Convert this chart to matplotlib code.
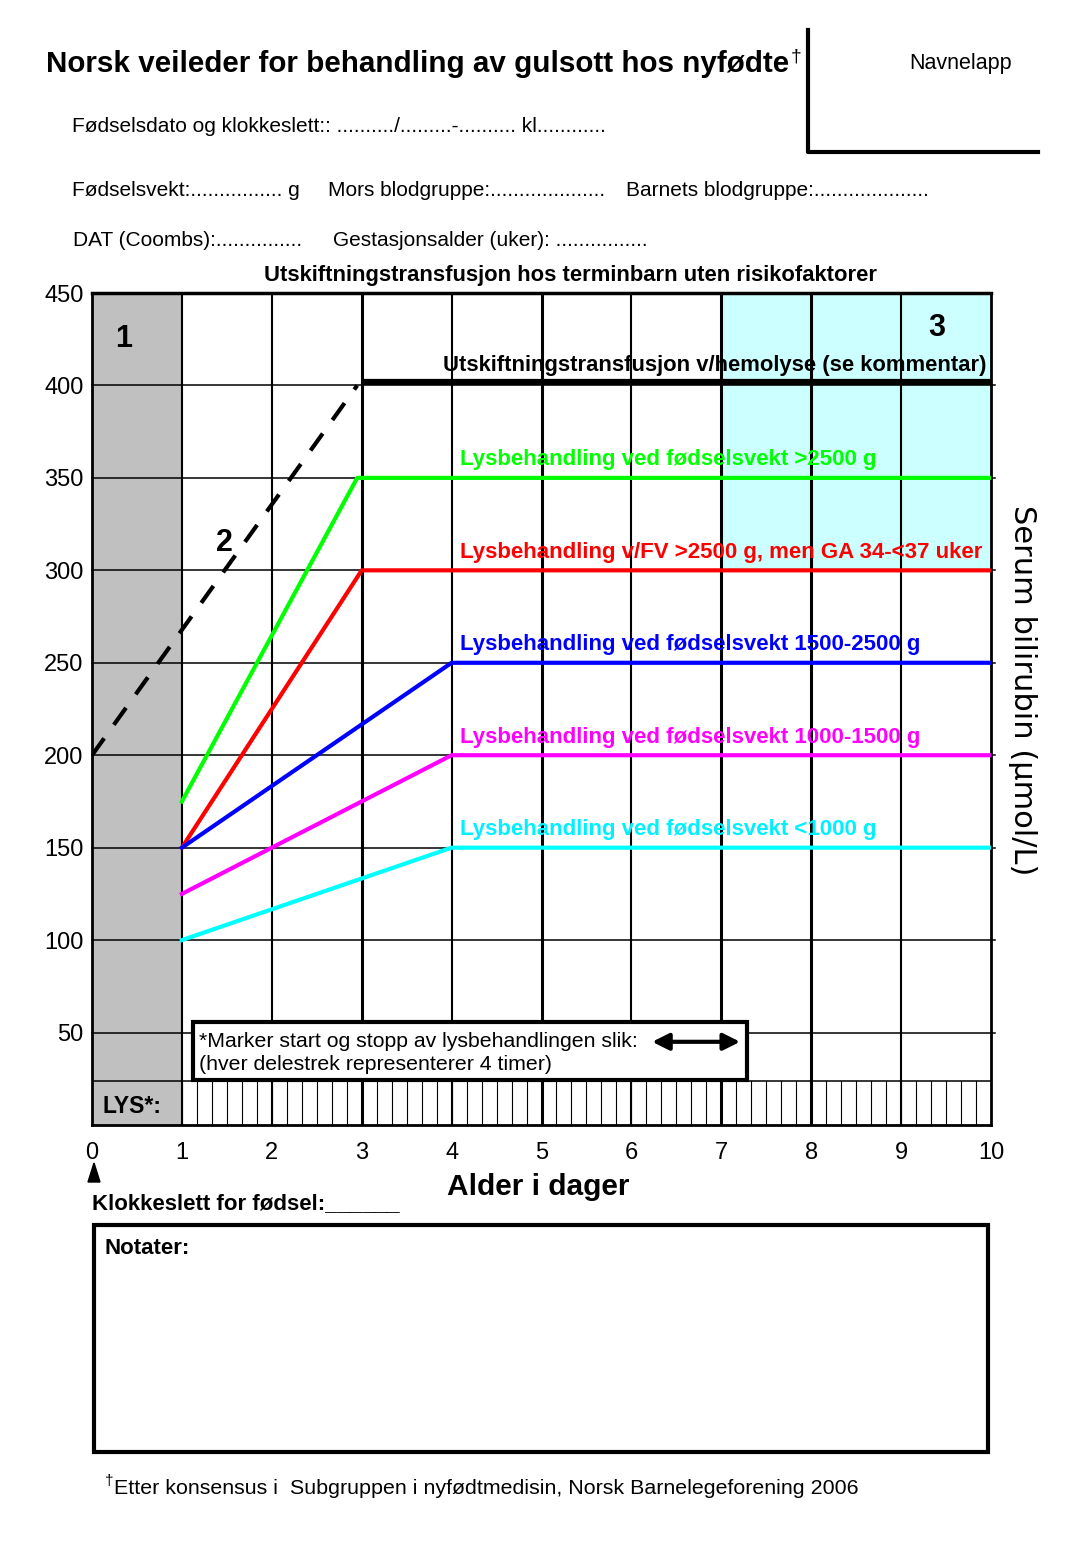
import numpy as np
from matplotlib import pyplot as plt
from matplotlib.patches import Rectangle

W, H = 1068, 1541

plt.rcParams['font.family'] = ['Liberation Sans', 'DejaVu Sans']

# grid values
y_ticks = [50, 100, 150, 200, 250, 300, 350, 400, 450]
x_ticks = list(range(0, 11))

# treatment limits (day, bilirubin)
exch_days = [3, 10]
exch_vals = [402, 402]
hemo_days = [0, 2.95]
hemo_vals = [200, 400]
green_days = [1, 2.95, 10]
green_vals = [175, 350, 350]
red_days = [1, 3, 10]
red_vals = [150, 300, 300]
blue_days = [1, 4, 10]
blue_vals = [150, 250, 250]
magenta_days = [1, 4, 10]
magenta_vals = [125, 200, 200]
cyan_days = [1, 4, 10]
cyan_vals = [100, 150, 150]

labels = [
    ("Lysbehandling ved fødselsvekt >2500 g", 350, '#00ff00'),
    ("Lysbehandling v/FV >2500 g, men GA 34-<37 uker", 300, '#ff0000'),
    ("Lysbehandling ved fødselsvekt 1500-2500 g", 250, '#0000ff'),
    ("Lysbehandling ved fødselsvekt 1000-1500 g", 200, '#ff00ff'),
    ("Lysbehandling ved fødselsvekt <1000 g", 150, '#00f0ff'),
]


def px(x, y):
    return x / W, 1 - y / H


fig = plt.figure(figsize=(W / 100, H / 100), dpi=100)
ax = fig.add_axes([92 / W, 1 - 1125 / H, (991 - 92) / W, (1125 - 293) / H])
ax.set_xlim(0, 10)
ax.set_ylim(0, 450)

# shaded zones
ax.add_patch(Rectangle((0, 0), 1, 450, facecolor='#c0c0c0', edgecolor='none', zorder=0))
ax.add_patch(Rectangle((7, 300), 3, 150, facecolor='#ccffff', edgecolor='none', zorder=0))

# grid
for yv in y_ticks[:-1]:
    ax.plot([0, 10.05], [yv, yv], color='black', lw=1.1, zorder=1, clip_on=False)
for d in x_ticks[1:-1]:
    lw = 2.2 if d in (3, 5, 7, 8) else 1.5
    ax.plot([d, d], [0, 450], color='black', lw=lw, zorder=1)

# LYS strip, one tick per 4 hours
ax.plot([0, 10], [24, 24], color='black', lw=1.1, zorder=1)
for t in np.arange(1, 10, 1 / 6):
    ax.plot([t, t], [0, 24], color='black', lw=0.8, zorder=1)
ax.text(0.12, 10, "LYS*:", fontsize=16.5, fontweight='bold', va='center', ha='left')

# curves
ax.plot(hemo_days, hemo_vals, color='black', lw=3, ls=(0, (5, 4)), zorder=3)
ax.plot(exch_days, exch_vals, color='black', lw=4.5, zorder=3, solid_capstyle='butt')
ax.plot(green_days, green_vals, color='#00ff00', lw=3, zorder=3)
ax.plot(red_days, red_vals, color='#ff0000', lw=3, zorder=3)
ax.plot(blue_days, blue_vals, color='#0000ff', lw=3, zorder=3)
ax.plot(magenta_days, magenta_vals, color='#ff00ff', lw=3, zorder=3)
ax.plot(cyan_days, cyan_vals, color='#00ffff', lw=3, zorder=3)

ax.text(9.95, 405, "Utskiftningstransfusjon v/hemolyse (se kommentar)", fontsize=15.8,
        fontweight='bold', ha='right', va='bottom', zorder=4)
for txt, yv, col in labels:
    ax.text(4.09, yv + 4, txt, fontsize=16, fontweight='bold', color=col,
            ha='left', va='bottom', zorder=4)

ax.text(0.35, 425, "1", fontsize=22, fontweight='bold', ha='center', va='center')
ax.text(1.47, 315, "2", fontsize=22, fontweight='bold', ha='center', va='center')
ax.text(9.4, 431, "3", fontsize=22, fontweight='bold', ha='center', va='center')

# marking note box
ax.add_patch(Rectangle((1.12, 24.5), 6.17, 31, facecolor='white', edgecolor='black',
                       lw=3, zorder=5))
ax.text(1.19, 50.5, "*Marker start og stopp av lysbehandlingen slik:", fontsize=15.3,
        ha='left', va='top', zorder=6)
ax.text(1.19, 38, "(hver delestrek representerer 4 timer)", fontsize=15.3,
        ha='left', va='top', zorder=6)
ax.annotate('', xy=(7.24, 45), xytext=(6.2, 45),
            arrowprops=dict(arrowstyle='<|-|>', color='black', lw=3, mutation_scale=25),
            zorder=6)

# axes frame
for s in ('left', 'bottom', 'right'):
    ax.spines[s].set_linewidth(2)
ax.spines['top'].set_linestyle((0, (2, 1)))
ax.spines['top'].set_linewidth(2.5)

ax.set_yticks(y_ticks)
ax.set_yticklabels([str(v) for v in y_ticks], fontsize=17)
ax.set_xticks(x_ticks)
ax.set_xticklabels([str(v) for v in x_ticks], fontsize=17)
ax.tick_params(axis='x', length=0, pad=12)
ax.tick_params(axis='y', length=0, pad=6)

# header
title = fig.text(*px(46, 64), "Norsk veileder for behandling av gulsott hos nyfødte", fontsize=21.3,
                 fontweight='bold', va='center', ha='left')
ax.annotate("†", xy=(1, 1), xycoords=title, xytext=(1, 1), textcoords='offset points',
            fontsize=14, ha='left', va='top', annotation_clip=False)
fig.text(*px(72, 126), "Fødselsdato og klokkeslett:: ........../.........-.......... kl............",
         fontsize=15, va='center')
fig.text(*px(72, 190), "Fødselsvekt:................ g", fontsize=15, va='center')
fig.text(*px(328, 190), "Mors blodgruppe:....................", fontsize=15, va='center')
fig.text(*px(626, 190), "Barnets blodgruppe:....................", fontsize=15, va='center')
fig.text(*px(73, 240), "DAT (Coombs):...............", fontsize=15, va='center')
fig.text(*px(333, 240), "Gestasjonsalder (uker): ................", fontsize=15, va='center')
fig.text(*px(909, 64), "Navnelapp", fontsize=15.5, va='center')
fig.add_artist(plt.Line2D([808 / W, 808 / W, 1038 / W], [1 - 30 / H, 1 - 152 / H, 1 - 152 / H],
                          color='black', lw=3, transform=fig.transFigure))
fig.text(*px(571, 275), "Utskiftningstransfusjon hos terminbarn uten risikofaktorer",
         fontsize=15.8, fontweight='bold', ha='center', va='center')

fig.text(*px(1022, 690), "Serum bilirubin (µmol/L)", fontsize=22, rotation=-90,
         ha='center', va='center', family=['DejaVu Sans'])

# below chart
fig.text(*px(538, 1187), "Alder i dager", fontsize=21.5, fontweight='bold', ha='center', va='center')
fig.text(*px(92, 1204), "Klokkeslett for fødsel:______", fontsize=16, fontweight='bold',
         ha='left', va='center')
fig.add_artist(plt.Polygon([px(88, 1182), px(100, 1182), px(94, 1163)], closed=True,
                           color='black', transform=fig.transFigure))

fig.add_artist(Rectangle(px(94, 1452), (988 - 94) / W, (1452 - 1225) / H, facecolor='none',
                         edgecolor='black', lw=3, transform=fig.transFigure))
fig.text(*px(104, 1248), "Notater:", fontsize=16, fontweight='bold', va='center')
fig.text(*px(105, 1481), "†", fontsize=11, va='center')
fig.text(*px(114, 1488), "Etter konsensus i  Subgruppen i nyfødtmedisin, Norsk Barnelegeforening 2006",
         fontsize=15.4, va='center')

fig.savefig('out.png', dpi=100)
